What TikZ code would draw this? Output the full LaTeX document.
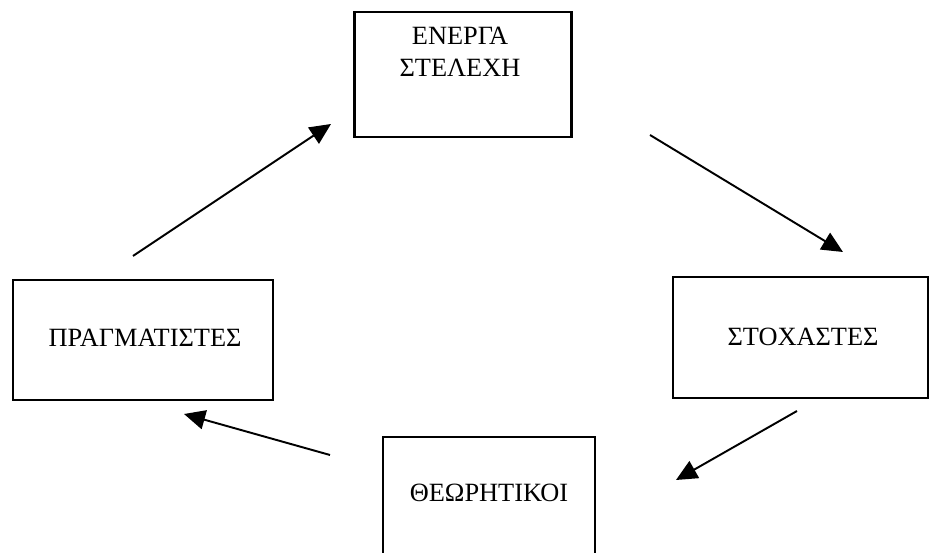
\documentclass[tikz,border=0pt]{standalone}
\usepackage{fontspec}
\setmainfont{Liberation Serif}
\usetikzlibrary{arrows.meta}
\tikzset{box/.style = {draw, line width=1.2pt, inner sep=0pt},
  lbl/.style = {font=\fontsize{15}{18}\selectfont, align=center, inner sep=0pt},
  flow/.style = {line width=1.1pt, -{Triangle[length=12pt,width=11pt]}}
  }

\begin{document}
\begin{tikzpicture}[x=0.02cm,y=-0.02cm]
        \useasboundingbox (0,0) rectangle (938,553);
        \clip (0,0) rectangle (938,553);
        \path (463,74.5) node[box, minimum width=4.34cm, minimum height=2.5cm] (top) {}
        (143,340) node[box, minimum width=5.2cm, minimum height=2.4cm] (left) {}
        (800.5,337.5) node[box, minimum width=5.1cm, minimum height=2.42cm] (right) {}
        (489,507) node[box, minimum width=4.24cm, minimum height=2.8cm] (bottom) {};
        \path (460,52) node[lbl] (energa) {ΕΝΕΡΓΑ\\ΣΤΕΛΕΧΗ}
        (145,338) node[lbl] (pragm) {ΠΡΑΓΜΑΤΙΣΤΕΣ}
        (803,337) node[lbl] (stoch) {ΣΤΟΧΑΣΤΕΣ}
        (489,493) node[lbl] (theor) {ΘΕΩΡΗΤΙΚΟΙ};
        \path (133,256) coordinate (p1) (331,124) coordinate (p2)
        (650,135) coordinate (s1) (843,252) coordinate (s2)
        (797,411) coordinate (t1) (676,480) coordinate (t2)
        (330,455) coordinate (b1) (184,414) coordinate (b2);
        \draw[flow] (p1) -- (p2);
        \draw[flow] (s1) -- (s2);
        \draw[flow] (t1) -- (t2);
        \draw[flow] (b1) -- (b2);
        \end{tikzpicture}
\end{document}
